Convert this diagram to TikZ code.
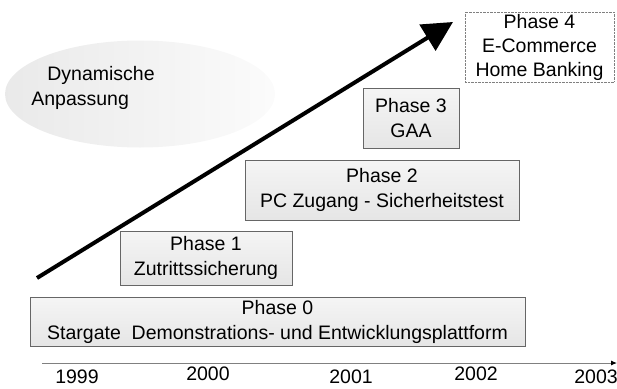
\documentclass[tikz,border=0pt]{standalone}
\usepackage{fontspec}
\setmainfont{Liberation Sans}
\usetikzlibrary{shapes,arrows.meta}

\begin{document}
\begin{tikzpicture}[x=1pt,y=-1pt,font=\fontsize{19.5}{25}\selectfont]
\tikzstyle{phase}=[rectangle,draw=black!60,line width=0.8pt,top color=gray!8,bottom color=gray!20,align=center,inner sep=0pt]
\tikzstyle{year}=[inner sep=0pt]
\useasboundingbox (0,0) rectangle (617,388);

\node[ellipse,left color=gray!17,right color=gray!3,minimum width=270pt,minimum height=107pt](E) at (140,94) {};
\node[align=left,inner sep=0pt](EText) at (93,88) {\hspace*{16pt}Dynamische\\Anpassung};

\node[phase,minimum width=495pt,minimum height=49pt](P0) at (277.5,321.5) {Phase 0\\Stargate\ \ Demonstrations- und Entwicklungsplattform};
\node[phase,minimum width=172pt,minimum height=54pt](P1) at (206,258) {Phase 1\\Zutrittssicherung};
\node[phase,minimum width=274pt,minimum height=60pt](P2) at (382,190) {Phase 2\\PC Zugang - Sicherheitstest};
\node[phase,minimum width=96pt,minimum height=60pt](P3) at (411,118) {Phase 3\\GAA};
\node[rectangle,draw=gray,densely dotted,fill=white,align=center,inner sep=0pt,minimum width=149pt,minimum height=70pt,font=\fontsize{19.5}{24}\selectfont](P4) at (539.5,47) {Phase 4\\E-Commerce\\Home Banking};

\coordinate (from) at (37,278);
\coordinate (to) at (453,22);
\draw[line width=4pt,-{Triangle[length=30pt,width=30pt]}] (from) -- (to);

\coordinate (a) at (42,363);
\coordinate (b) at (617,363);
\draw[gray,line width=1pt,-{Latex[black,length=6pt,width=5pt]}] (a) -- (b);

\node[year](Y1999) at (77,377) {1999};
\node[year](Y2000) at (208,374) {2000};
\node[year](Y2001) at (351,377) {2001};
\node[year](Y2002) at (476,374) {2002};
\node[year](Y2003) at (596,377) {2003};
\end{tikzpicture}
\end{document}
